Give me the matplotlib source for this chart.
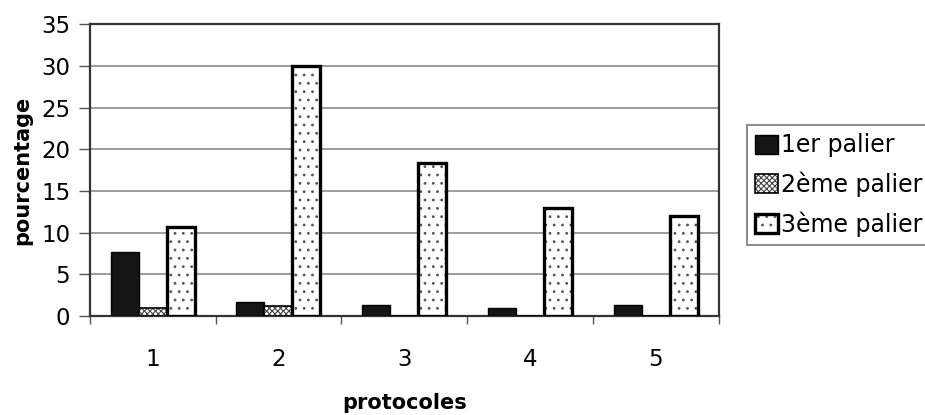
import matplotlib
matplotlib.use('Agg')
import matplotlib.pyplot as plt
from matplotlib.legend_handler import HandlerTuple
import numpy as np

protocoles = ['1', '2', '3', '4', '5']
palier1 = [7.7, 1.7, 1.4, 1.0, 1.4]
palier2 = [1.0, 1.2, 0.0, 0.0, 0.0]
palier3 = [10.7, 30.0, 18.4, 13.0, 12.0]
series_names = ['1er palier', '2ème palier', '3ème palier']

plt.rcParams['font.family'] = ['DejaVu Sans']
plt.rcParams['hatch.linewidth'] = 0.8

fig = plt.figure(figsize=[9.25, 4.15], dpi=100)
ax = fig.add_axes([0.097, 0.238, 0.68, 0.704])

x = np.arange(1, len(protocoles) + 1)
w = 1 / 4.5

b1 = ax.bar(x - w, palier1, w, color='#151515', edgecolor='black', linewidth=1, zorder=3)
# hatch fill then black outline on top
b2h = ax.bar(x, palier2, w, color='white', edgecolor='#444444', hatch='xxxxxx',
             linewidth=0, zorder=3)
b2o = ax.bar(x, palier2, w, fill=False, edgecolor='black', linewidth=1.2, zorder=4)
b3h = ax.bar(x + w, palier3, w, color='white', edgecolor='#555555', hatch='..',
             linewidth=0, zorder=3)
b3o = ax.bar(x + w, palier3, w, fill=False, edgecolor='black', linewidth=2.4, zorder=4)

ax.set_xlim(0.5, 5.5)
ax.set_ylim(0, 35)
ax.set_yticks(np.arange(0, 36, 5))
ax.yaxis.grid(True, color='#808080', linewidth=1.1, zorder=0)

# category boundaries as ticks, labels centred
ax.set_xticks(np.arange(0.5, 5.6, 1))
ax.set_xticklabels([])
ax.set_xticks(x, minor=True)
ax.set_xticklabels(protocoles, minor=True)
ax.tick_params(axis='x', which='major', direction='out', length=6, width=1, color='#555555')
ax.tick_params(axis='x', which='minor', length=0, pad=23, labelsize=16.5)
ax.tick_params(axis='y', direction='out', length=8, width=1, color='#555555', labelsize=16.5, pad=6)

for s in ax.spines.values():
    s.set_linewidth(1.6)
    s.set_color('#333333')

ax.set_xlabel('protocoles', fontsize=15, fontweight='bold', labelpad=16)
ax.set_ylabel('pourcentage', fontsize=15, fontweight='bold', labelpad=6)

handles = [b1, (b2h, b2o), (b3h, b3o)]
leg = fig.legend(handles, series_names, loc='upper left',
                 bbox_to_anchor=(747 / 925, (415 - 125) / 415),
                 bbox_transform=fig.transFigure,
                 handler_map={tuple: HandlerTuple(ndivide=1, pad=0)},
                 fontsize=17, frameon=True, fancybox=False, edgecolor='#555555',
                 handlelength=0.95, handleheight=0.85, handletextpad=0.15,
                 borderpad=0.35, labelspacing=0.6, borderaxespad=0)
leg.get_frame().set_linewidth(1.2)

fig.savefig('out.png', dpi=100)
